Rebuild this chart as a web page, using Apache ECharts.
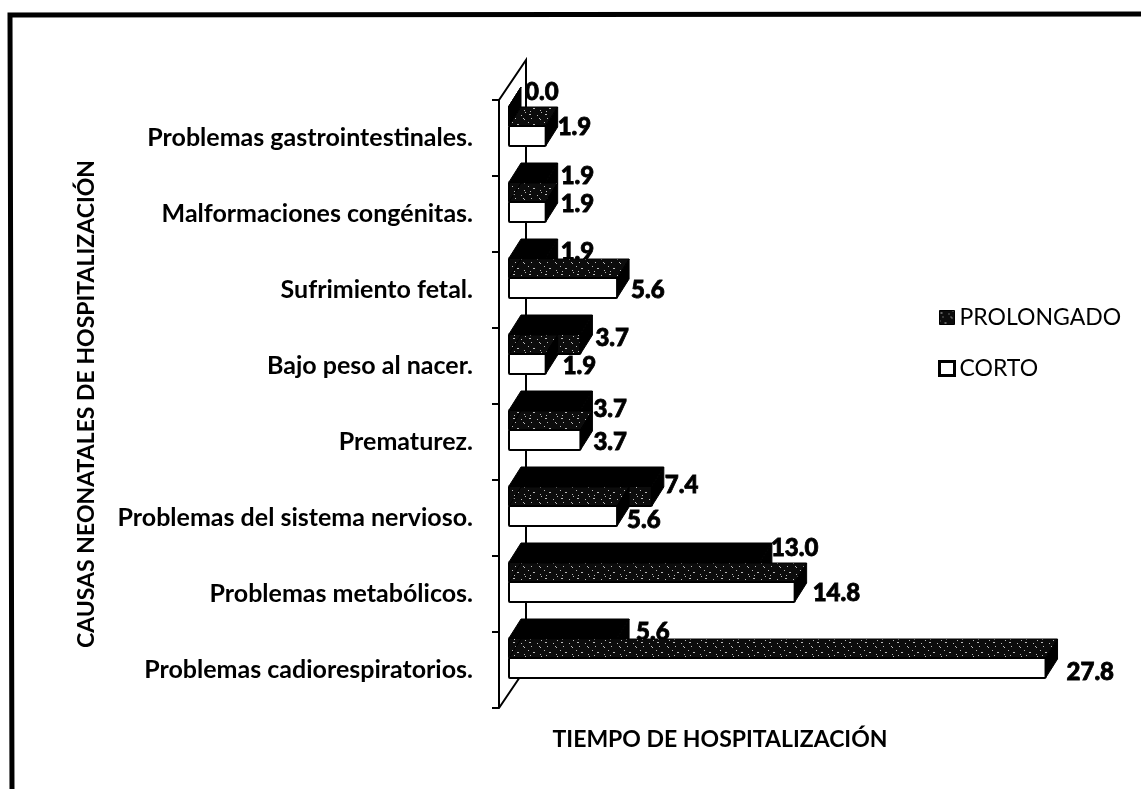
<!DOCTYPE html>
<html>
<head>
<meta charset="utf-8">
<style>
html, body { margin: 0; padding: 0; background: #fff; }
#main { width: 1141px; height: 789px; }
</style>
<script src="https://cdn.jsdelivr.net/npm/echarts@6/dist/echarts.min.js"></script>
</head>
<body>
<div id="main"></div>
<script>
'use strict';

var categories = [
    'Problemas cadiorespiratorios.',
    'Problemas metabólicos.',
    'Problemas del sistema nervioso.',
    'Prematurez.',
    'Bajo peso al nacer.',
    'Sufrimiento fetal.',
    'Malformaciones congénitas.',
    'Problemas gastrointestinales.'
];
var prolongado = [5.6, 13.0, 7.4, 3.7, 3.7, 1.9, 1.9, 0.0];
var corto = [27.8, 14.8, 5.6, 3.7, 1.9, 5.6, 1.9, 1.9];

// hand placed labels in the original: y from the top of each band, x from the bar end
var prolongadoLabelY = [0, -8, 5, 5, 10, 0, 0, -8];
var prolongadoLabelX = [7, -1, 1, 1, 3, 3, 3, 4];
var cortoLabelY = [40, 37, 40, 38, 38, 38, 28, 27];
var cortoLabelX = [9, 6, -2, 1, 5, 2, 3, 0];

var FONT = 'Lato, sans-serif';
var DEPTH_X = 12;
var DEPTH_Y = 19;
var BAR_H = 20;

// black with a few white specks, same look as the scanned fill
var makeStipple = function () {
    var specks = [[1, 2], [2, 2], [9, 3], [13, 0], [3, 6], [11, 6], [12, 7], [0, 10], [5, 12], [6, 12], [12, 14], [2, 15]];
    var c = document.createElement('canvas');
    c.width = 16;
    c.height = 16;
    var ctx = c.getContext('2d');
    ctx.fillStyle = '#0c0c0c';
    ctx.fillRect(0, 0, 16, 16);
    ctx.fillStyle = '#bbb';
    specks.forEach(function (s) {
        ctx.fillRect(s[0], s[1], 1, 1);
    });
    return { image: c, repeat: 'repeat' };
};
var stipple = makeStipple();

var poly = function (points, fill) {
    return {
        type: 'polygon',
        shape: { points: points },
        style: { fill: fill, stroke: '#000', lineWidth: 1 }
    };
};

// frontOffset: distance from band top to the top edge of the front face
var renderBar = function (frontOffset, frontFill, topFill, labelY, labelX) {
    return function (params, api) {
        var p = api.coord([api.value(0), api.value(1)]);
        var base = api.coord([0, api.value(1)]);
        var band = api.size([0, 1])[1];
        var bandTop = p[1] - band / 2;
        var y0 = bandTop + frontOffset;
        var y1 = y0 + BAR_H;
        var x0 = base[0];
        var x1 = p[0];
        return {
            type: 'group',
            children: [
                poly([[x0, y0], [x0 + DEPTH_X, y0 - DEPTH_Y], [x1 + DEPTH_X, y0 - DEPTH_Y], [x1, y0]], topFill),
                poly([[x1, y0], [x1 + DEPTH_X, y0 - DEPTH_Y], [x1 + DEPTH_X, y1 - DEPTH_Y], [x1, y1]], '#000'),
                {
                    type: 'rect',
                    shape: { x: x0, y: y0, width: x1 - x0, height: BAR_H, r: 1 },
                    style: { fill: frontFill, stroke: '#000', lineWidth: 2 }
                },
                {
                    type: 'text',
                    style: {
                        x: x1 + DEPTH_X + labelX[params.dataIndex],
                        y: bandTop + labelY[params.dataIndex],
                        text: api.value(0).toFixed(1),
                        fill: '#000',
                        stroke: '#000',
                        lineWidth: 0.8,
                        font: '900 24px ' + FONT,
                        align: 'left',
                        verticalAlign: 'middle'
                    }
                }
            ]
        };
    };
};

// the slanted side wall behind the bars
var renderWall = function (params) {
    var g = params.coordSys;
    var front = g.x - 10;
    var back = front + 27;
    return {
        type: 'polyline',
        shape: { points: [[front, g.y], [back, g.y - 40], [back, g.y + g.height - 40], [front, g.y + g.height]] },
        style: { stroke: '#000', lineWidth: 2, fill: 'none' }
    };
};

var toPairs = function (values) {
    return values.map(function (v, i) { return [v, i]; });
};

var myChart = echarts.init(document.getElementById('main'), null, { renderer: 'canvas' });

myChart.setOption({
    backgroundColor: '#fff',
    animation: false,
    title: {
        text: 'TIEMPO DE HOSPITALIZACIÓN',
        left: 715,
        top: 723,
        textAlign: 'center',
        textStyle: { fontFamily: FONT, fontSize: 23, fontWeight: 'bold', color: '#000' }
    },
    legend: {
        left: 938,
        top: 306,
        padding: 0,
        orient: 'vertical',
        itemWidth: 15,
        itemHeight: 14,
        itemGap: 28,
        textStyle: { fontFamily: FONT, fontSize: 23, color: '#000', padding: [0, 0, 0, 0] },
        data: [
            { name: 'PROLONGADO', icon: 'rect', itemStyle: { color: stipple, borderColor: '#000', borderWidth: 1 } },
            { name: 'CORTO', icon: 'rect', itemStyle: { color: '#fff', borderColor: '#000', borderWidth: 3 } }
        ]
    },
    grid: { left: 509, top: 100, width: 579, height: 608 },
    xAxis: {
        type: 'value',
        min: 0,
        max: 30,
        show: false
    },
    yAxis: {
        type: 'category',
        data: categories,
        offset: 10,
        name: 'CAUSAS NEONATALES DE HOSPITALIZACIÓN',
        nameLocation: 'middle',
        nameRotate: 90,
        nameGap: 401,
        nameTextStyle: { fontFamily: FONT, fontSize: 23, fontWeight: 'bold', color: '#000' },
        axisLine: { onZero: false, lineStyle: { color: '#000', width: 2 } },
        axisTick: { show: true, length: 7, lineStyle: { color: '#000', width: 2 } },
        axisLabel: { margin: 26, padding: [6, 0, 0, 0], fontFamily: FONT, fontSize: 25, fontWeight: 'bold', color: '#000' }
    },
    series: [
        {
            name: 'wall',
            type: 'custom',
            silent: true,
            renderItem: renderWall,
            data: [[0, 0]],
            encode: { x: 0, y: 1 },
            z: 1
        },
        {
            name: 'PROLONGADO',
            type: 'custom',
            renderItem: renderBar(6, stipple, '#000', prolongadoLabelY, prolongadoLabelX),
            data: toPairs(prolongado),
            encode: { x: 0, y: 1 },
            z: 2
        },
        {
            name: 'CORTO',
            type: 'custom',
            renderItem: renderBar(26, '#fff', stipple, cortoLabelY, cortoLabelX),
            data: toPairs(corto),
            encode: { x: 0, y: 1 },
            z: 3
        }
    ],
    graphic: [
        {
            // scan keeps only the top and left edges of the frame
            type: 'polyline',
            shape: { points: [[12, 789], [10, 15], [1141, 14]] },
            style: { fill: 'none', stroke: '#000', lineWidth: 5 },
            silent: true
        }
    ]
});
</script>
</body>
</html>
